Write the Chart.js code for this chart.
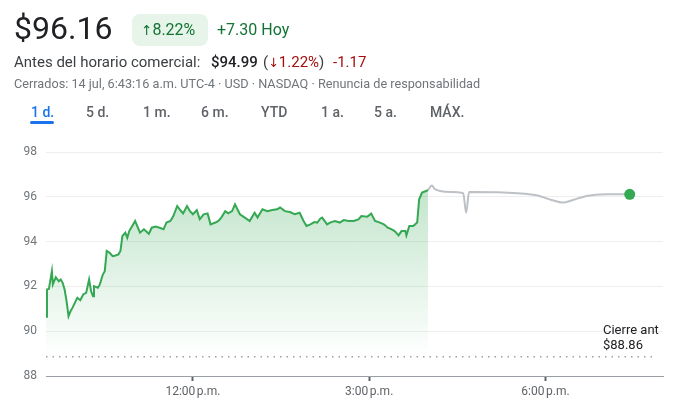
<!DOCTYPE html>
<html lang="es">
<head>
<meta charset="utf-8">
<title>Cotización</title>
<script src="https://cdn.jsdelivr.net/npm/chart.js@4.4.1/dist/chart.umd.min.js"></script>
<style>
    html, body { margin: 0; padding: 0; background: #fff; }
    body { width: 700px; height: 408px; position: relative; overflow: hidden; font-family: Roboto, Arial, sans-serif; color: #202124; }
    .abs { position: absolute; white-space: nowrap; }
    .arrow { font-family: "DejaVu Sans", sans-serif; font-size: 0.85em; }
    #price { left: 14px; top: 8px; font-size: 32px; line-height: 40px; color: #202124; }
    #pill { left: 132px; top: 14px; width: 76px; height: 32px; background: #e6f4ea; border-radius: 8px; }
    #pct { left: 141px; top: 20px; font-size: 16px; line-height: 20px; color: #137333; }
    #chg { left: 217px; top: 20px; font-size: 16px; line-height: 20px; color: #137333; }
    .pre { top: 53px; font-size: 15px; line-height: 18px; color: #3c4043; }
    .pre.dark { color: #202124; font-weight: 500; }
    .pre .red, .pre.red { color: #a50e0e; }
    #info { left: 14px; top: 76px; font-size: 12.7px; line-height: 16px; color: #70757a; }
    .tab { top: 103px; font-size: 14px; line-height: 18px; color: #5f6368; font-weight: 500; }
    .tab.on { color: #1a73e8; }
    #bar { left: 30px; top: 121px; width: 24px; height: 3px; background: #1a73e8; border-radius: 2px; }
    #cierre { left: 603px; top: 322px; font-size: 13px; line-height: 15px; color: #202124; }
    #chartBox { position: absolute; left: 0; top: 0; width: 700px; height: 408px; }
</style>
</head>
<body>

<div id="chartBox"><canvas id="stockChart" width="700" height="408"></canvas></div>

<div class="abs" id="price">$96.16</div>
<div class="abs" id="pill"></div>
<div class="abs" id="pct"><span class="arrow">↑</span>8.22%</div>
<div class="abs" id="chg">+7.30 Hoy</div>
<div class="abs pre" style="left:14px">Antes del horario comercial:</div>
<div class="abs pre dark" style="left:211px">$94.99</div>
<div class="abs pre" style="left:263px">(<span class="red"><span class="arrow">↓</span>1.22%</span>)</div>
<div class="abs pre red" style="left:333px">-1.17</div>
<div class="abs" id="info">Cerrados: 14 jul, 6:43:16 a.m. UTC-4 · USD · NASDAQ · Renuncia de responsabilidad</div>

<div class="abs tab on" style="left:31px">1 d.</div>
<div class="abs tab" style="left:86px">5 d.</div>
<div class="abs tab" style="left:143px">1 m.</div>
<div class="abs tab" style="left:201px">6 m.</div>
<div class="abs tab" style="left:261px">YTD</div>
<div class="abs tab" style="left:321px">1 a.</div>
<div class="abs tab" style="left:374px">5 a.</div>
<div class="abs tab" style="left:430px">MÁX.</div>
<div class="abs" id="bar"></div>

<div class="abs" id="cierre">Cierre ant<br>$88.86</div>

<script>
// ---------------- DATA ----------------
// minutes since midnight, 9:30 a.m. = 570
const sessionMinutes = [
    570, 571, 573, 576, 577, 580, 583, 585, 587, 589, 591, 593, 595, 597, 601, 602, 605, 608, 611, 614,
    616, 618, 619, 623, 625, 628, 630, 632, 635, 638, 641, 644, 646, 648, 651, 653, 655, 657, 661, 666,
    670, 675, 678, 682, 686, 690, 693, 697, 700, 704, 707, 710, 714, 717, 720, 724, 727, 731, 735, 738,
    743, 746, 749, 753, 756, 760, 763, 768, 773, 778, 783, 786, 791, 796, 801, 806, 809, 814, 819, 824,
    829, 833, 836, 840, 844, 847, 850, 852, 857, 860, 865, 870, 874, 879, 884, 889, 892, 898, 902, 906,
    911, 915, 919, 923, 926, 930, 933, 937, 938, 941, 945, 949, 951, 954, 958, 960
];
const sessionPrices = [
    90.64, 91.86, 91.89, 92.68, 92.09, 92.41, 92.23, 92.31, 92.16, 91.86, 91.34, 90.67, 90.89, 91.04, 91.41, 91.49, 91.38, 91.64, 91.71, 92.31,
    91.79, 91.56, 92.01, 91.94, 92.09, 92.53, 92.68, 93.58, 93.50, 93.35, 93.38, 93.43, 93.58, 94.25, 94.40, 94.17, 94.47, 94.62, 94.92, 94.40,
    94.55, 94.35, 94.62, 94.67, 94.62, 94.55, 94.85, 94.92, 95.14, 95.59, 95.41, 95.26, 95.59, 95.36, 95.22, 95.40, 95.00, 95.22, 95.26, 94.77,
    94.85, 94.92, 95.07, 95.36, 95.26, 95.36, 95.66, 95.22, 95.07, 94.92, 95.29, 95.07, 95.44, 95.36, 95.41, 95.44, 95.52, 95.36, 95.32, 95.22,
    95.29, 94.92, 94.70, 94.77, 94.87, 94.85, 95.02, 95.07, 94.77, 94.85, 94.92, 94.85, 94.96, 94.92, 94.92, 94.99, 95.14, 95.11, 95.25, 94.92,
    94.85, 94.77, 94.62, 94.55, 94.47, 94.28, 94.47, 94.47, 94.28, 94.70, 94.70, 94.85, 95.89, 96.19, 96.26, 96.30
];
const afterMinutes = [960, 964, 967, 983, 996, 999, 1002, 1037, 1071, 1086, 1098, 1108, 1122, 1142, 1166];
const afterPrices = [96.30, 96.51, 96.34, 96.21, 96.16, 95.29, 96.21, 96.19, 96.07, 95.86, 95.74, 95.86, 96.04, 96.11, 96.11];

const prevClose = 88.86;
const yTicks = [88, 90, 92, 94, 96, 98];
const xTickMinutes = [720, 900, 1080];
const xTickLabels = ["12:00\u202Fp.m.", "3:00\u202Fp.m.", "6:00\u202Fp.m."];
const axisStart = 570;   // 9:30 a.m.
const axisEnd = 1200;    // 8:00 p.m.

// ---------------- CHART ----------------
const toPoints = (xs, ys) => xs.map((x, i) => ({ x: x, y: ys[i] }));
const lastIdx = afterMinutes.length - 1;

const green = "#34a853";
const gray = "#bdc1c6";

new Chart(document.getElementById("stockChart"), {
    type: "line",
    data: {
        datasets: [
            {
                data: toPoints(sessionMinutes, sessionPrices),
                borderColor: green,
                borderWidth: 2,
                pointRadius: 0,
                tension: 0,
                fill: { value: prevClose },
                backgroundColor: function (ctx) {
                    const chart = ctx.chart;
                    const area = chart.chartArea;
                    if (!area) return "rgba(52,168,83,0.2)";
                    const yBottom = chart.scales.y.getPixelForValue(prevClose);
                    const g = chart.ctx.createLinearGradient(0, chart.scales.y.getPixelForValue(96.5), 0, yBottom);
                    g.addColorStop(0, "rgba(52,168,83,0.30)");
                    g.addColorStop(1, "rgba(52,168,83,0.0)");
                    return g;
                },
                order: 2
            },
            {
                data: toPoints(afterMinutes, afterPrices),
                borderColor: gray,
                borderWidth: 2,
                pointRadius: 0,
                cubicInterpolationMode: "monotone",
                fill: false,
                order: 3
            },
            {
                data: [{ x: afterMinutes[lastIdx], y: afterPrices[lastIdx] }],
                borderColor: green,
                backgroundColor: green,
                pointRadius: 5.5,
                pointBorderWidth: 0,
                showLine: false,
                order: 1
            },
            {
                data: [{ x: axisStart, y: prevClose }, { x: 1193, y: prevClose }],
                borderColor: "#9aa0a6",
                borderWidth: 1.5,
                borderDash: [1.5, 5],
                pointRadius: 0,
                fill: false,
                order: 4
            }
        ]
    },
    options: {
        responsive: false,
        animation: false,
        events: [],
        layout: { padding: { top: 152, right: 37, left: 0, bottom: 0 } },
        plugins: {
            legend: { display: false },
            tooltip: { enabled: false }
        },
        scales: {
            x: {
                type: "linear",
                min: axisStart,
                max: axisEnd,
                afterBuildTicks: function (scale) {
                    scale.ticks = xTickMinutes.map(v => ({ value: v }));
                },
                afterFit: function (scale) { scale.height = 32; },
                ticks: {
                    autoSkip: false,
                    maxRotation: 0,
                    padding: 4,
                    color: "#5f6368",
                    font: { family: "Roboto", size: 12 },
                    callback: function (value, index) { return xTickLabels[index]; }
                },
                grid: {
                    drawOnChartArea: false,
                    drawTicks: true,
                    tickLength: 5,
                    tickWidth: 2,
                    tickColor: "#5f6368"
                },
                border: { display: true, color: "#9aa0a6", width: 1 }
            },
            y: {
                min: yTicks[0],
                max: yTicks[yTicks.length - 1],
                afterBuildTicks: function (scale) {
                    scale.ticks = yTicks.map(v => ({ value: v }));
                },
                afterFit: function (scale) { scale.width = 46; },
                ticks: {
                    padding: 9,
                    color: "#70757a",
                    font: { family: "Roboto", size: 12 }
                },
                grid: {
                    color: "#eeeeee",
                    lineWidth: 1,
                    drawTicks: false
                },
                border: { display: false }
            }
        }
    }
});
</script>
</body>
</html>
